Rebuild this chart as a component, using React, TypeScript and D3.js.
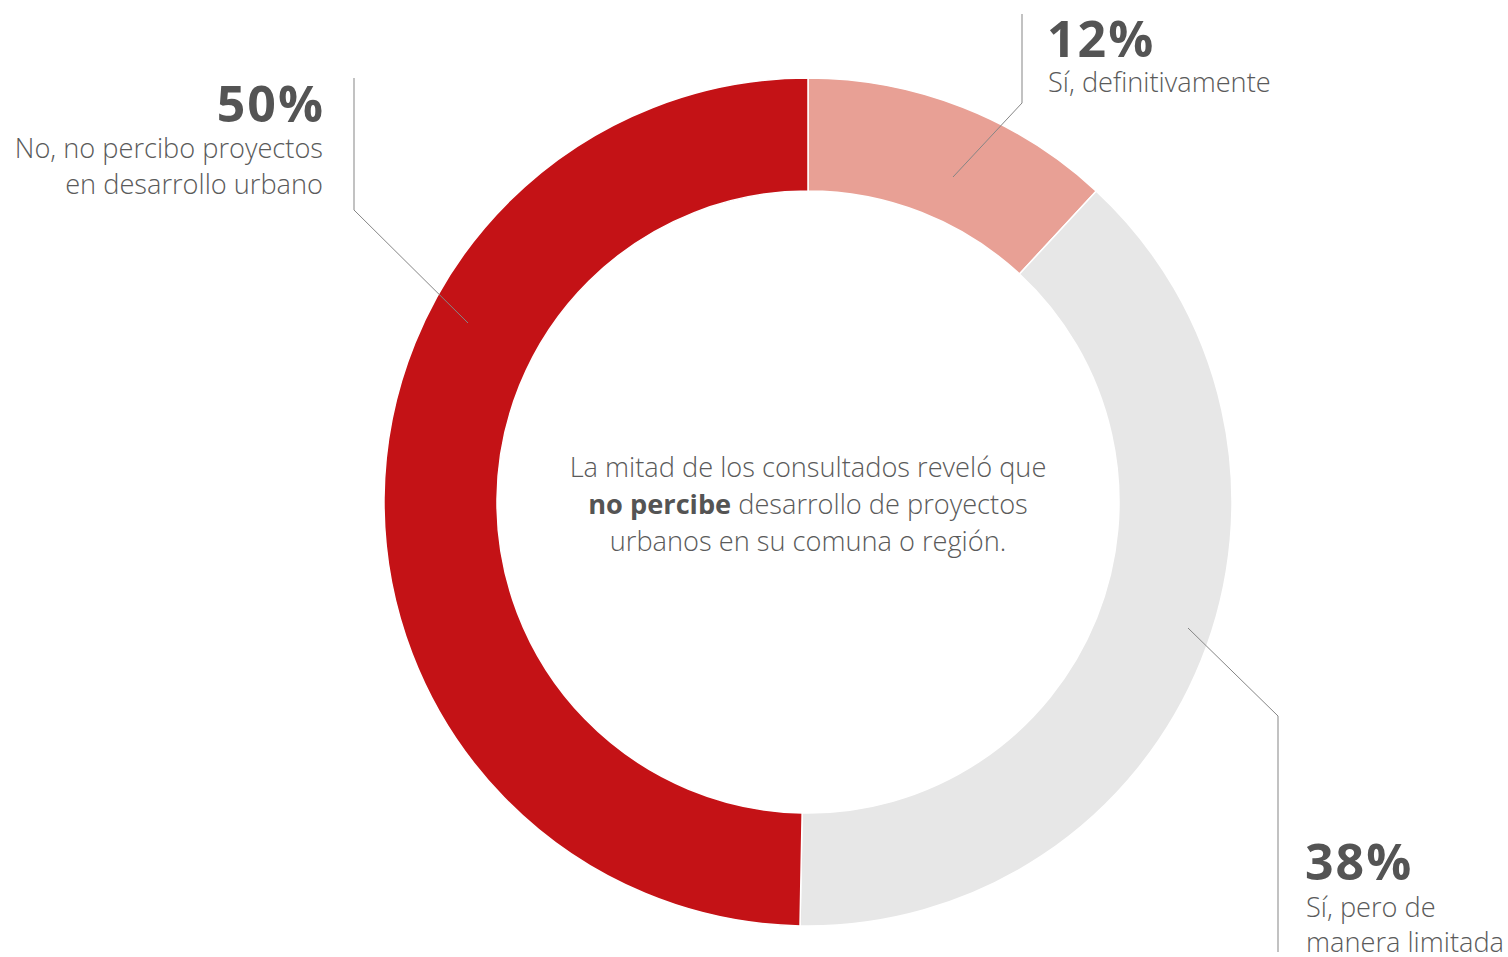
import * as d3 from 'd3';

// slice values (share of respondents, %)
const categories = ['Sí, definitivamente', 'Sí, pero de manera limitada', 'No, no percibo proyectos en desarrollo urbano'];
const values = [11.9, 38.4, 49.7];
const pctLabels = ['12%', '38%', '50%'];
const colors = ['#E8A095', '#E7E7E7', '#C41216'];

const W = 1508;
const H = 957;
const cx = 808;
const cy = 502;
const outerR = 424;
const innerR = 311;

const FONT = '"Open Sans", "Noto Sans", sans-serif';
const DARK = '#545454';
const TEXT = '#5a5a5a';
const LINE = '#858585';
const BIG = 50;
const SMALL = 27.2;

export default function App() {
  const pie = d3.pie<number>().sort(null).value((d) => d);
  const arcs = pie(values);
  const arc = d3.arc<d3.PieArcDatum<number>>().innerRadius(innerR).outerRadius(outerR);

  return (
    <svg
      width={W}
      height={H}
      style={{ position: 'absolute', left: 0, top: 0, background: '#fff' }}
      fontFamily={FONT}
    >
      <g transform={`translate(${cx},${cy})`}>
        {arcs.map((a, i) => (
          <path key={categories[i]} d={arc(a) ?? ''} fill={colors[i]} stroke="#fff" strokeWidth={1.5} />
        ))}
      </g>

      {/* leader lines */}
      <g fill="none" stroke={LINE} strokeWidth={1}>
        <polyline points="953,177 1022,103 1022,14" />
        <polyline points="468,323 354,210 354,78" />
        <polyline points="1188,628 1278,716 1278,952" />
      </g>

      {/* 50% label */}
      <g textAnchor="end" fill={TEXT} fontWeight={300}>
        <text x={325} y={122} fontSize={BIG} fontWeight={700} fill={DARK} letterSpacing={2}>{pctLabels[2]}</text>
        <text x={323} y={158} fontSize={SMALL}>No, no percibo proyectos</text>
        <text x={323} y={194} fontSize={SMALL}>en desarrollo urbano</text>
      </g>

      {/* 12% label */}
      <g fill={TEXT} fontWeight={300}>
        <text x={1047} y={57} fontSize={BIG} fontWeight={700} fill={DARK} letterSpacing={2}>{pctLabels[0]}</text>
        <text x={1048} y={92} fontSize={SMALL}>Sí, definitivamente</text>
      </g>

      {/* 38% label */}
      <g fill={TEXT} fontWeight={300}>
        <text x={1305} y={880} fontSize={BIG} fontWeight={700} fill={DARK} letterSpacing={2}>{pctLabels[1]}</text>
        <text x={1306} y={917} fontSize={SMALL}>Sí, pero de</text>
        <text x={1306} y={952} fontSize={SMALL}>manera limitada</text>
      </g>

      {/* center note */}
      <g textAnchor="middle" fill={TEXT} fontSize={SMALL} fontWeight={300}>
        <text x={cx} y={477}>La mitad de los consultados reveló que</text>
        <text x={cx} y={514}>
          <tspan fontWeight={700} fill={DARK}>no percibe</tspan> desarrollo de proyectos
        </text>
        <text x={cx} y={551}>urbanos en su comuna o región.</text>
      </g>
    </svg>
  );
}
